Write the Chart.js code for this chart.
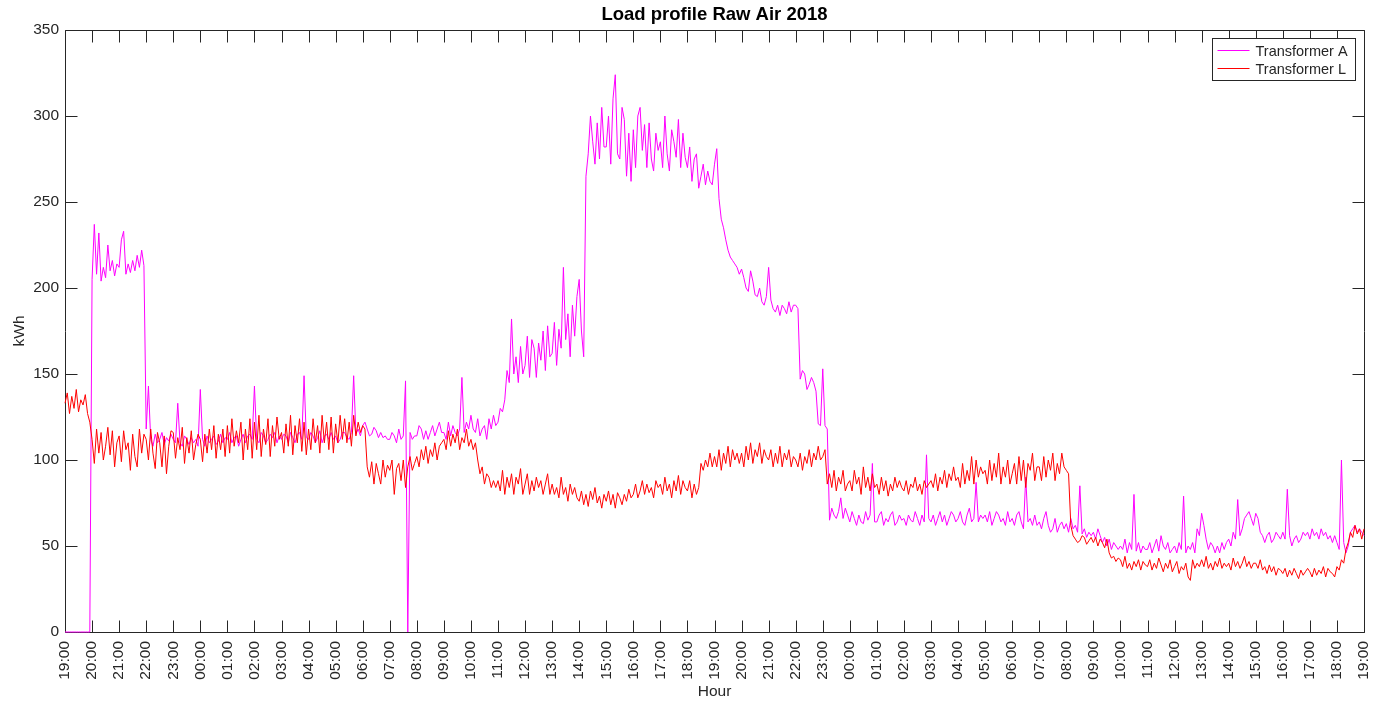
<!DOCTYPE html>
<html>
<head>
<meta charset="utf-8">
<title>Load profile Raw Air 2018</title>
<script src="https://cdn.jsdelivr.net/npm/chart.js@4.4.1/dist/chart.umd.min.js"></script>
<style>
  html, body { margin: 0; padding: 0; background: #fff; }
  #wrap { width: 1385px; height: 707px; position: relative; }
</style>
</head>
<body>
<div id="wrap"><canvas id="loadChart"></canvas></div>
<script>
// Tick labels, one per hour: 19:00 -> 19:00 two days later
const hourLabels = [
  '19:00', '20:00', '21:00', '22:00', '23:00', '00:00', '01:00', '02:00', '03:00', '04:00',
  '05:00', '06:00', '07:00', '08:00', '09:00', '10:00', '11:00', '12:00', '13:00', '14:00',
  '15:00', '16:00', '17:00', '18:00', '19:00', '20:00', '21:00', '22:00', '23:00', '00:00',
  '01:00', '02:00', '03:00', '04:00', '05:00', '06:00', '07:00', '08:00', '09:00', '10:00',
  '11:00', '12:00', '13:00', '14:00', '15:00', '16:00', '17:00', '18:00', '19:00'
];

const seriesNames = ['Transformer A', 'Transformer L'];
const seriesColors = ['#ff00ff', '#ff0000'];

// one sample every 5 minutes (12 per hour)
const STEPS_PER_HOUR = 12;

// Transformer A (kWh), one row per hour
const loadA = [
  0, 0, 0, 0, 0, 0, 0, 0, 0, 0, 0, 0,                              // 19:00
  205, 237, 208, 232, 204, 212, 206, 225, 210, 216, 207, 214,      // 20:00
  212, 228, 233, 208, 214, 209, 216, 210, 219, 212, 222, 213,
  118, 143, 112, 108, 115, 110, 112, 116, 109, 113, 111, 115,
  112, 110, 133, 110, 108, 114, 112, 109, 113, 110, 112, 108,
  141, 112, 108, 114, 110, 112, 114, 109, 111, 115, 110, 113,      // 00:00
  112, 116, 110, 113, 114, 108, 112, 115, 110, 114, 115, 112,
  143, 112, 110, 116, 114, 110, 112, 115, 113, 116, 110, 114,
  112, 115, 114, 110, 116, 113, 110, 115, 116, 112, 149, 113,
  112, 116, 114, 110, 113, 117, 110, 114, 115, 112, 116, 112,
  114, 110, 112, 116, 116, 113, 112, 116, 149, 115, 118, 114,
  120, 122, 118, 114, 115, 119, 117, 113, 116, 113, 114, 112,      // 06:00
  112, 116, 114, 110, 118, 112, 114, 146, 0, 116, 112, 114,
  114, 120, 118, 112, 117, 112, 116, 120, 114, 118, 122, 116,
  116, 112, 122, 114, 120, 116, 114, 118, 148, 116, 122, 118,
  126, 118, 116, 124, 114, 118, 120, 112, 124, 118, 126, 120,      // 10:00
  122, 130, 128, 135, 152, 145, 182, 150, 160, 145, 166, 150,
  155, 172, 148, 170, 165, 148, 168, 158, 175, 152, 178, 160,
  162, 180, 155, 176, 165, 212, 170, 185, 160, 190, 172, 195,
  205, 175, 160, 265, 278, 300, 285, 272, 296, 275, 305, 282,      // 14:00
  282, 300, 272, 310, 324, 278, 275, 305, 298, 265, 290, 262,
  292, 270, 300, 305, 280, 295, 270, 296, 275, 268, 290, 280,
  285, 270, 300, 278, 268, 292, 285, 276, 298, 270, 290, 276,
  270, 282, 262, 275, 278, 258, 265, 272, 260, 268, 262, 260,
  272, 281, 252, 240, 235, 228, 222, 218, 216, 214, 212, 208,      // 19:00
  211, 206, 200, 198, 210, 204, 196, 195, 200, 192, 190, 195,
  212, 193, 188, 186, 190, 184, 190, 188, 185, 192, 186, 190,
  190, 188, 147, 152, 150, 141, 144, 148, 145, 140, 121, 120,
  153, 120, 118, 65, 72, 68, 66, 70, 78, 66, 72, 68,               // 23:00
  64, 70, 66, 62, 68, 64, 63, 70, 65, 68, 98, 64,                  // 00:00
  64, 68, 70, 62, 66, 64, 68, 70, 62, 64, 68, 65,
  66, 62, 68, 65, 64, 70, 66, 62, 68, 64, 103, 66,
  64, 68, 62, 66, 70, 64, 68, 62, 66, 70, 68, 64,
  66, 70, 64, 62, 68, 72, 64, 66, 87, 64, 68, 66,
  68, 64, 70, 62, 66, 70, 68, 64, 66, 62, 70, 64,
  66, 62, 68, 70, 64, 60, 90, 64, 66, 62, 68, 62,                  // 06:00
  64, 60, 66, 70, 62, 58, 60, 66, 58, 62, 64, 60,
  63, 58, 66, 60, 62, 58, 85, 57, 60, 55, 58, 56,                  // 08:00
  58, 54, 60, 56, 52, 55, 50, 54, 48, 52, 50, 48,
  50, 48, 54, 46, 52, 48, 80, 47, 52, 46, 50, 48,
  48, 52, 46, 50, 54, 47, 56, 50, 48, 52, 46, 48,
  50, 46, 52, 48, 79, 46, 50, 48, 52, 46, 60, 56,                  // 12:00
  69, 62, 54, 48, 52, 50, 46, 50, 46, 52, 48, 52,
  54, 50, 58, 54, 77, 56, 60, 66, 68, 70, 66, 62,
  69, 66, 58, 56, 52, 56, 58, 52, 54, 58, 56, 54,
  58, 54, 83, 56, 50, 54, 56, 52, 54, 58, 56, 58,                  // 16:00
  54, 60, 56, 58, 54, 60, 56, 58, 54, 56, 52, 56,
  52, 48, 100, 52, 46, 50, 58, 60, 62, 58, 60, 58,
  56                                                               // 19:00
];

// Transformer L (kWh), one row per hour
const loadL = [
  133, 139, 127, 137, 130, 141, 128, 135, 132, 138, 127, 122,      // 19:00
  112, 98, 118, 104, 116, 100, 108, 119, 103, 117, 96, 110,        // 20:00
  114, 99, 117, 106, 110, 94, 115, 102, 96, 118, 104, 115,
  112, 100, 118, 104, 95, 116, 110, 96, 114, 92, 108, 117,
  116, 101, 113, 106, 119, 98, 113, 104, 117, 100, 109, 115,
  112, 99, 115, 104, 118, 106, 120, 101, 115, 106, 118, 102,       // 00:00
  120, 104, 124, 108, 117, 110, 122, 100, 118, 106, 124, 101,
  122, 106, 126, 102, 118, 109, 124, 102, 120, 108, 125, 112,
  116, 104, 121, 108, 126, 103, 120, 110, 124, 105, 122, 103,
  118, 106, 124, 110, 120, 104, 126, 110, 122, 106, 125, 104,
  121, 110, 126, 112, 124, 110, 122, 108, 126, 114, 122, 116,
  120, 118, 96, 90, 99, 86, 98, 92, 86, 100, 90, 97,               // 06:00
  94, 100, 80, 95, 98, 88, 100, 84, 96, 102, 94, 98,
  102, 96, 106, 100, 108, 98, 106, 102, 110, 100, 108, 110,
  112, 106, 117, 108, 115, 110, 118, 106, 113, 110, 118, 108,
  112, 106, 110, 100, 92, 96, 86, 92, 90, 84, 88, 84,              // 10:00
  88, 82, 94, 80, 90, 84, 92, 80, 90, 86, 95, 80,
  86, 92, 80, 88, 82, 90, 84, 88, 80, 86, 92, 80,
  86, 80, 84, 78, 90, 80, 84, 76, 86, 80, 84, 78,
  76, 82, 74, 80, 73, 82, 77, 84, 75, 79, 72, 80,                  // 14:00
  76, 82, 74, 80, 72, 81, 78, 74, 80, 76, 83, 78,
  80, 86, 78, 82, 88, 80, 86, 81, 84, 78, 88, 84,
  86, 80, 90, 82, 86, 78, 88, 82, 91, 80, 88, 84,
  82, 88, 78, 86, 80, 84, 98, 94, 100, 96, 104, 96,
  102, 96, 106, 94, 104, 98, 108, 96, 106, 100, 104, 98,           // 19:00
  104, 96, 108, 100, 110, 98, 106, 102, 110, 98, 106, 102,
  100, 106, 96, 104, 98, 108, 96, 104, 100, 106, 96, 102,
  100, 96, 104, 94, 102, 98, 106, 96, 104, 100, 108, 100,
  102, 106, 86, 92, 84, 94, 82, 90, 86, 94, 82, 86,                // 23:00
  88, 82, 94, 86, 90, 80, 96, 84, 90, 82, 92, 84,                  // 00:00
  86, 80, 90, 82, 88, 79, 86, 82, 90, 84, 88, 84,
  82, 88, 80, 86, 84, 90, 82, 86, 80, 88, 84, 86,
  88, 84, 92, 82, 90, 86, 94, 84, 92, 88, 96, 88,
  90, 84, 98, 86, 94, 88, 102, 86, 100, 90, 96, 92,
  94, 86, 100, 88, 98, 90, 104, 86, 96, 90, 100, 86,
  92, 98, 86, 102, 88, 100, 84, 98, 94, 104, 88, 96,               // 06:00
  96, 88, 102, 90, 100, 94, 104, 88, 98, 92, 104, 96,
  94, 92, 62, 56, 54, 52, 53, 56, 55, 51, 53, 55,                  // 08:00
  52, 55, 50, 54, 52, 49, 54, 46, 43, 44, 41, 43,
  42, 38, 44, 37, 40, 36, 41, 38, 42, 36, 41, 39,
  38, 42, 36, 40, 37, 43, 39, 35, 40, 37, 42, 35,
  38, 41, 34, 38, 36, 40, 32, 30, 42, 37, 40, 38,                  // 12:00
  42, 38, 44, 37, 40, 36, 41, 38, 43, 37, 40, 38,
  40, 36, 43, 38, 41, 37, 40, 44, 38, 41, 37, 40,
  40, 37, 42, 36, 38, 34, 39, 35, 38, 33, 37, 36,
  34, 37, 32, 36, 33, 37, 34, 31, 36, 33, 35, 37,                  // 16:00
  35, 32, 37, 33, 36, 34, 38, 32, 37, 35, 34, 32,
  38, 36, 42, 40, 48, 52, 58, 55, 62, 57, 60, 54,
  60                                                               // 19:00
];

const FONT = '"Liberation Sans", Arial, Helvetica, sans-serif';
const AXIS_COLOR = '#262626';
const TICK_LEN = 12;

function toPoints(values) {
  return values.map((v, i) => ({ x: i / STEPS_PER_HOUR, y: v }));
}

// matlab style box with inward ticks on all four sides, title and legend
const boxTicks = {
  id: 'boxTicks',
  beforeDatasetsDraw(chart) {
    const { ctx, chartArea: a, scales: { x, y } } = chart;
    const L = Math.round(a.left) + 0.5, R = Math.round(a.right) + 0.5;
    const T = Math.round(a.top) + 0.5, B = Math.round(a.bottom) + 0.5;
    ctx.save();
    ctx.strokeStyle = AXIS_COLOR;
    ctx.lineWidth = 1;
    ctx.beginPath();
    ctx.rect(L, T, R - L, B - T);
    x.ticks.forEach((t, i) => {
      const px = Math.round(x.getPixelForTick(i)) + 0.5;
      ctx.moveTo(px, B); ctx.lineTo(px, B - TICK_LEN);
      ctx.moveTo(px, T); ctx.lineTo(px, T + TICK_LEN);
    });
    y.ticks.forEach((t, i) => {
      const py = Math.round(y.getPixelForTick(i)) + 0.5;
      ctx.moveTo(L, py); ctx.lineTo(L + TICK_LEN, py);
      ctx.moveTo(R, py); ctx.lineTo(R - TICK_LEN, py);
    });
    ctx.stroke();
    ctx.restore();
  },
  afterDraw(chart) {
    const { ctx, chartArea: a } = chart;
    ctx.save();
    ctx.fillStyle = '#000';
    ctx.font = 'bold 18.5px ' + FONT;
    ctx.textAlign = 'center';
    ctx.textBaseline = 'middle';
    ctx.fillText('Load profile Raw Air 2018', (a.left + a.right) / 2, 15);

    // legend box in the upper right corner
    const w = 143, h = 42;
    const bx = Math.round(a.right) - 9 - w + 0.5, by = Math.round(a.top) + 8 + 0.5;
    ctx.fillStyle = '#fff';
    ctx.fillRect(bx, by, w, h);
    ctx.strokeStyle = AXIS_COLOR;
    ctx.lineWidth = 1;
    ctx.strokeRect(bx, by, w, h);
    ctx.font = '14.5px ' + FONT;
    ctx.textAlign = 'left';
    chart.data.datasets.forEach((ds, i) => {
      const ly = by + 12 + i * 18;
      ctx.strokeStyle = ds.borderColor;
      ctx.beginPath();
      ctx.moveTo(bx + 5, ly);
      ctx.lineTo(bx + 37, ly);
      ctx.stroke();
      ctx.fillStyle = AXIS_COLOR;
      ctx.fillText(ds.label, bx + 43, ly + 1);
    });
    ctx.restore();
  }
};

new Chart(document.getElementById('loadChart'), {
  type: 'line',
  data: {
    datasets: [
      {
        label: seriesNames[0],
        data: toPoints(loadA),
        borderColor: seriesColors[0],
        borderWidth: 1,
        pointRadius: 0,
        tension: 0,
        clip: 3,
        order: 1
      },
      {
        label: seriesNames[1],
        data: toPoints(loadL),
        borderColor: seriesColors[1],
        borderWidth: 1,
        pointRadius: 0,
        tension: 0,
        clip: 3,
        order: 0
      }
    ]
  },
  options: {
    animation: false,
    responsive: true,
    maintainAspectRatio: false,
    layout: { padding: { top: 30, right: 21, left: 0, bottom: 0 } },
    plugins: {
      legend: { display: false },
      tooltip: { enabled: false },
      title: { display: false }
    },
    scales: {
      x: {
        type: 'linear',
        min: 0,
        max: 48,
        grid: { display: false, drawTicks: false },
        border: { display: false },
        ticks: {
          stepSize: 1,
          autoSkip: false,
          maxTicksLimit: 100,
          minRotation: 90,
          maxRotation: 90,
          padding: 9,
          color: AXIS_COLOR,
          font: { family: FONT, size: 15.5 },
          callback: v => hourLabels[v]
        },
        title: {
          display: true,
          text: 'Hour',
          color: AXIS_COLOR,
          font: { family: FONT, size: 15.5 },
          padding: { top: 0, bottom: 6 }
        },
        afterFit(s) {
          s.height = 75;
          s.paddingLeft = 0;
          s.paddingRight = 0;
        }
      },
      y: {
        min: 0,
        max: 350,
        grid: { display: false, drawTicks: false },
        border: { display: false },
        ticks: {
          stepSize: 50,
          padding: 6,
          color: AXIS_COLOR,
          font: { family: FONT, size: 15.5 }
        },
        title: {
          display: true,
          text: 'kWh',
          color: AXIS_COLOR,
          font: { family: FONT, size: 15.5 },
          padding: { top: 10, bottom: 0 }
        },
        afterFit(s) { s.width = 65; }
      }
    }
  },
  plugins: [boxTicks]
});
</script>
</body>
</html>
